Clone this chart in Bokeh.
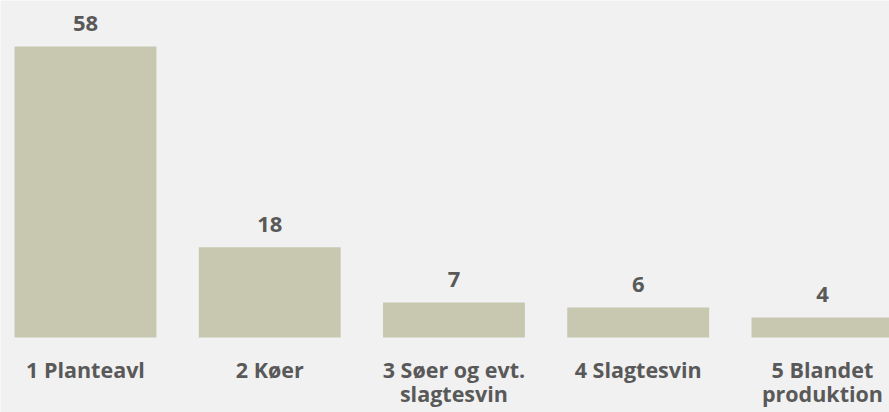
from bokeh.plotting import figure
from bokeh.models import Range1d, ColumnDataSource
from bokeh.core.properties import value
from bokeh.embed import file_html
from bokeh.resources import INLINE

categories = ["1 Planteavl", "2 Køer", "3 Søer og evt.\nslagtesvin", "4 Slagtesvin", "5 Blandet\nproduktion"]
counts = [58, 18, 7, 6, 4]

BG = "#f1f1f1"
BAR = "#c8c7b0"
TXT = "#595959"
FONT = value("Open Sans")

xs = list(range(len(categories)))
src = ColumnDataSource(dict(
    x=xs,
    top=counts,
    lab=[str(v) for v in counts],
    ly=[v + 4.6 for v in counts],
    cat=categories,
    cy=[-3.45] * len(categories),
))

p = figure(width=889, height=412, output_backend="svg", toolbar_location=None,
           x_range=Range1d(-0.4613, 4.364), y_range=Range1d(-14.95, 67.17),
           min_border=0, min_border_left=0, min_border_right=0,
           min_border_top=0, min_border_bottom=0)
p.background_fill_color = BG
p.border_fill_color = BG
p.outline_line_color = None
p.axis.visible = False
p.grid.visible = False

p.vbar(x="x", top="top", bottom=0, width=0.77, source=src,
       fill_color=BAR, line_color=None)

p.text(x="x", y="ly", text="lab", source=src, text_align="center",
       text_baseline="middle", text_font=FONT, text_font_style="bold",
       text_font_size="22px", text_color=TXT)

p.text(x="x", y="cy", text="cat", source=src, text_align="center",
       text_baseline="top", text_font=FONT, text_font_style="bold",
       text_font_size="21.5px", text_color=TXT, text_line_height=0.82)

html = file_html(p, INLINE)
html = html.replace("<body>", '<body style="background:#f1f1f1;margin:0">', 1)
open("out.html", "w").write(html)
